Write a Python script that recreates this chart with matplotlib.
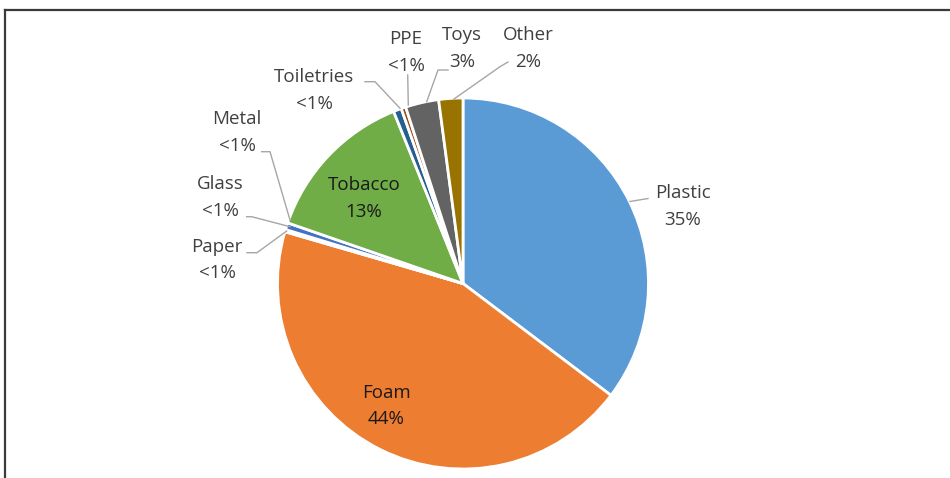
import matplotlib
matplotlib.use("Agg")
import matplotlib.pyplot as plt
from matplotlib.lines import Line2D

categories = ["Plastic", "Foam", "Paper", "Glass", "Metal", "Tobacco",
              "Toiletries", "PPE", "Toys", "Other"]
values = [35.3, 44.2, 0.1, 0.1, 0.6, 13.6, 0.7, 0.4, 2.9, 2.1]
pct_labels = ["35%", "44%", "<1%", "<1%", "<1%", "13%", "<1%", "<1%", "3%", "2%"]
colors = ["#5B9BD5", "#ED7D31", "#A5A5A5", "#FFC000", "#4472C4", "#70AD47",
          "#255E91", "#9E480E", "#636363", "#997300"]

W, H = 950, 478
plt.rcParams['font.family'] = ['Open Sans', 'DejaVu Sans']
fig = plt.figure(figsize=(W / 100, H / 100), dpi=100)
ax = fig.add_axes([0, 0, 1, 1])

def P(x, ytop):
    return (x, H - ytop)

cx, cy = P(463, 283.5)
ax.pie(values, colors=colors, startangle=90, counterclock=False,
       center=(cx, cy), radius=185.5, frame=True,
       wedgeprops=dict(edgecolor='white', linewidth=2))
ax.set_xlim(0, W)
ax.set_ylim(0, H)
ax.set_aspect('equal')
ax.axis('off')

# label text centers (pixel coords from top) and leader lines
label_pos = {
    "Plastic": (683, 206), "Foam": (386, 406), "Paper": (217, 260),
    "Glass": (220, 197), "Metal": (237, 132), "Tobacco": (364, 198),
    "Toiletries": (314, 90), "PPE": (406, 52), "Toys": (462, 48),
    "Other": (528, 48),
}
inside = {"Foam", "Tobacco"}
leaders = {
    "Plastic": [(648, 198.5), (630, 201.5)],
    "Paper": [(247, 252.7), (257, 252.7), (286.7, 231)],
    "Glass": [(246.7, 216.7), (251.7, 216.7), (290, 226.7)],
    "Metal": [(261.7, 151.7), (270, 151.7), (290, 220)],
    "Toiletries": [(365, 81.7), (375, 81.7), (400, 108.3)],
    "PPE": [(407.7, 75), (408.3, 105)],
    "Toys": [(448, 70), (438, 70), (426.7, 101.7)],
    "Other": [(508, 62), (500, 66.7), (454, 99)],
}

FS = 13.5
for cat, pct in zip(categories, pct_labels):
    x, yt = label_pos[cat]
    col = '#1a1a1a' if cat in inside else '#404040'
    ax.text(*P(x, yt - 13.5), cat, ha='center', va='center', fontsize=FS, color=col)
    ax.text(*P(x, yt + 13.5), pct, ha='center', va='center', fontsize=FS, color=col)
    if cat in leaders:
        pts = [P(a, b) for a, b in leaders[cat]]
        ax.plot([p[0] for p in pts], [p[1] for p in pts], color='#A6A6A6', lw=1)

# outer frame (top and left borders)
fig.add_artist(Line2D([5 / W, 1], [1 - 10 / H, 1 - 10 / H], transform=fig.transFigure,
                      color='#3a3a3a', lw=1.6))
fig.add_artist(Line2D([5 / W, 5 / W], [0, 1 - 10 / H], transform=fig.transFigure,
                      color='#3a3a3a', lw=1.6))

fig.savefig("out.png", dpi=100)
